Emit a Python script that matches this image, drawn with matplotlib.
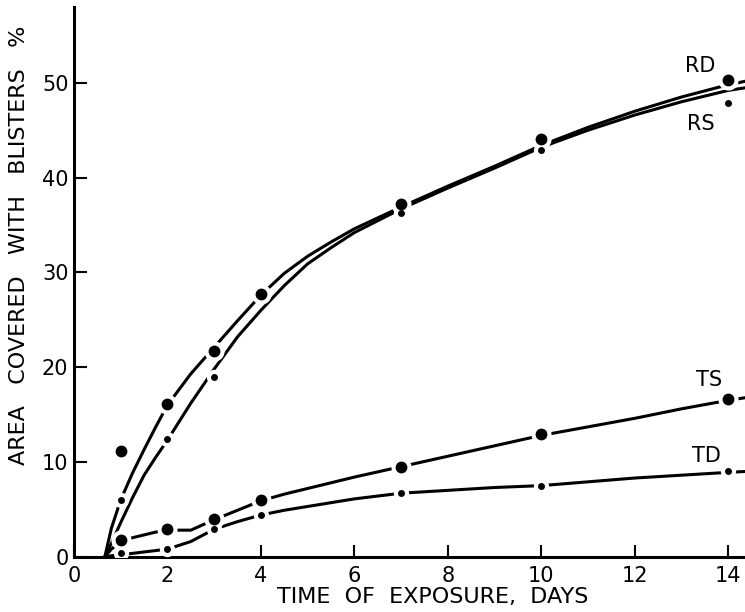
import matplotlib
matplotlib.use("Agg")
import matplotlib.pyplot as plt

plt.rcParams["font.family"] = ["DejaVu Sans"]

# measured points (days of exposure, % area blistered)
days = [1, 2, 3, 4, 7, 10, 14]
rd = [11.2, 16.1, 21.7, 27.7, 37.2, 44.1, 50.3]
rs_days = [1, 2, 3, 7, 10, 14]
rs = [6.0, 12.4, 19.0, 36.3, 42.9, 47.9]
ts = [1.8, 2.9, 4.0, 6.0, 9.5, 12.9, 16.6]
td = [0.4, 0.8, 2.9, 4.4, 6.7, 7.5, 9.0]

# hand-faired curves, read along a common day grid
fit_days = [0.66, 0.8, 1.0, 1.25, 1.5, 1.75, 2.0, 2.5, 3.0, 3.5, 4.0, 4.5,
            5.0, 5.5, 6.0, 7.0, 8.0, 9.0, 10.0, 11.0, 12.0, 13.0, 14.0, 14.4]
rd_fit = [0, 3.0, 6.0, 8.8, 11.3, 13.7, 16.0, 19.3, 22.1, 24.9, 27.6, 29.9,
          31.7, 33.2, 34.6, 36.9, 39.1, 41.2, 43.4, 45.3, 47.0, 48.5, 49.8, 50.2]
rs_fit = [0, 1.4, 3.6, 6.2, 8.6, 10.5, 12.3, 16.2, 19.8, 23.2, 26.0, 28.6,
          30.9, 32.6, 34.2, 36.7, 38.9, 41.0, 43.2, 45.0, 46.6, 48.0, 49.2, 49.5]
ts_fit = [0, 0.8, 1.6, 2.0, 2.3, 2.6, 2.8, 2.8, 3.9, 4.9, 5.9, 6.6,
          7.2, 7.8, 8.4, 9.5, 10.6, 11.7, 12.8, 13.7, 14.6, 15.6, 16.5, 16.8]
td_fit = [0, 0.1, 0.2, 0.35, 0.5, 0.65, 0.8, 1.6, 2.9, 3.7, 4.4, 4.9,
          5.3, 5.7, 6.1, 6.7, 7.0, 7.3, 7.5, 7.9, 8.3, 8.6, 8.9, 9.0]

curve_labels = ["RD", "RS", "TS", "TD"]
label_pos = [(13.4, 51.8), (13.42, 45.7), (13.6, 18.6), (13.54, 10.65)]

fig = plt.figure(figsize=(7.45, 6.12), dpi=100)
ax = fig.add_axes([74 / 745, 55.3 / 612, 671 / 745, 549.7 / 612])

for fy in (rd_fit, rs_fit, ts_fit, td_fit):
    ax.plot(fit_days, fy, color="black", lw=2.2, solid_capstyle="round",
            solid_joinstyle="round", zorder=2)

# white halos break the curves around each point
big, small = 8.5, 5.0
series = ((days, rd, big), (rs_days, rs, small),
          (days, ts, big), (days, td, small))
for xs, ys, ms in series:
    ax.plot(xs, ys, "o", ms=ms + 6, color="white", mec="none", zorder=3)
for xs, ys, ms in series:
    ax.plot(xs, ys, "o", ms=ms, color="black", mec="none", zorder=4)

for name, (lx, ly) in zip(curve_labels, label_pos):
    ax.text(lx, ly, name, fontsize=15, ha="center", va="center")

ax.set_xlim(0, 14.36)
ax.set_ylim(0, 58)
ax.set_xticks(range(0, 15, 2))
ax.set_yticks(range(0, 51, 10))
for s in ("top", "right"):
    ax.spines[s].set_visible(False)
for s in ("left", "bottom"):
    ax.spines[s].set_linewidth(2.2)
ax.tick_params(direction="in", length=9, width=1.5, labelsize=15)
ax.tick_params(axis="y", pad=4)
ax.tick_params(axis="x", pad=7)

ax.set_xlabel("TIME  OF  EXPOSURE,  DAYS", fontsize=16)
ax.set_ylabel("AREA   COVERED   WITH   BLISTERS   %", fontsize=16)
ax.xaxis.set_label_coords((433 - 74) / 671, -(587 - 556.7) / 549.7)
ax.yaxis.set_label_coords(-(74 - 29) / 671, (556.7 - 245) / 549.7)

fig.savefig("out.png", dpi=100)
